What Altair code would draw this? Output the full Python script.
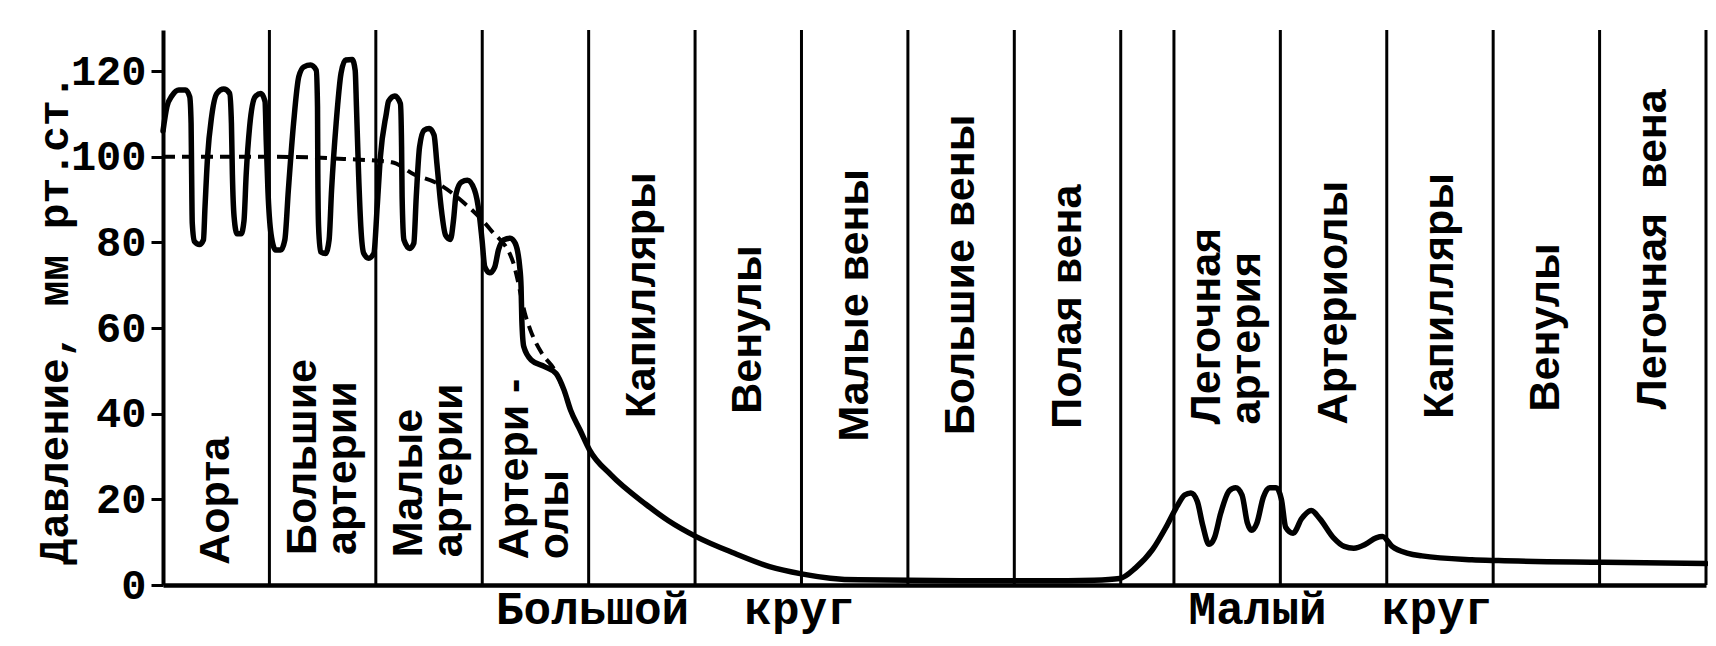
import altair as alt
import pandas as pd

NB = "\u00a0"  # non-breaking space keeps the wide typewriter gaps from collapsing

# ---------------- data (x: vessel sections, 1 unit = one section; p: mm Hg) ----------------
curve_x = [0.000, 0.037, 0.086, 0.149, 0.211, 0.251, 0.264, 0.269, 0.275, 0.296, 0.342, 0.380,
           0.395, 0.419, 0.457, 0.507, 0.571, 0.626, 0.643, 0.652, 0.668, 0.696, 0.734, 0.761,
           0.782, 0.814, 0.866, 0.920, 0.959, 0.970, 0.986, 1.015, 1.059, 1.106, 1.145, 1.178,
           1.227, 1.276, 1.324, 1.387, 1.440, 1.452, 1.455, 1.462, 1.481, 1.528, 1.561, 1.584,
           1.627, 1.673, 1.716, 1.778, 1.806, 1.818, 1.838, 1.859, 1.887, 1.933, 1.981, 2.013,
           2.043, 2.098, 2.120, 2.179, 2.231, 2.242, 2.247, 2.264, 2.319, 2.357, 2.380, 2.411,
           2.454, 2.501, 2.547, 2.574, 2.613, 2.655, 2.701, 2.730, 2.755, 2.804, 2.861, 2.928,
           2.971, 2.998, 3.024, 3.070, 3.118, 3.152, 3.201, 3.263, 3.310, 3.352, 3.365, 3.372,
           3.390, 3.463, 3.586, 3.694, 3.769, 3.829, 3.919, 4.009, 4.21, 4.54, 4.75, 5.01,
           5.37, 5.70, 6.00, 6.27, 6.54, 7.50, 8.50, 8.75, 8.99, 9.14, 9.30, 9.43, 9.53,
           9.60, 9.66, 9.72, 9.77, 9.83, 9.88, 9.94, 10.02, 10.08, 10.14, 10.19, 10.23,
           10.28, 10.34, 10.40, 10.46, 10.51, 10.55, 10.62, 10.70, 10.79, 10.87, 11.00, 11.10,
           11.19, 11.30, 11.40, 11.46, 11.55, 11.70, 11.83, 12.30, 12.55, 13.54, 14.50]
curve_p = [106.0, 111.7, 114.3, 115.6, 115.6, 114.0, 107.8, 96.0, 84.5, 80.2, 79.5, 80.6,
           88.4, 100.0, 109.4, 114.8, 115.8, 114.8, 107.8, 96.0, 86.0, 82.0, 82.0, 85.0,
           96.0, 107.0, 114.0, 114.8, 112.9, 103.9, 92.2, 82.0, 78.2, 78.2, 80.6, 92.2,
           107.8, 118.7, 121.0, 121.4, 120.2, 111.7, 96.0, 83.7, 77.8, 77.4, 80.6, 92.2,
           107.8, 119.5, 122.6, 122.7, 120.2, 111.7, 96.0, 83.7, 77.4, 76.3, 77.4, 88.4,
           100.0, 110.0, 113.0, 114.2, 112.4, 102.3, 90.7, 80.6, 78.6, 79.8, 90.7, 102.3,
           106.2, 106.6, 105.1, 98.4, 88.3, 81.7, 80.7, 85.2, 91.4, 94.1, 94.5, 92.2,
           86.8, 80.6, 74.3, 72.9, 74.3, 78.2, 80.6, 81.0, 79.8, 74.3, 69.6, 61.9,
           55.7, 52.5, 51.0, 49.4, 45.5, 40.9, 36.2, 31.5, 25.7, 18.8, 15.0, 11.3,
           7.4, 4.3, 2.6, 1.6, 1.2, 1.0, 1.0, 1.1, 1.5, 4.0, 8.3, 13.7, 18.4,
           21.0, 21.5, 19.5, 14.0, 9.5, 11.0, 16.8, 22.0, 22.7, 21.0, 14.5, 12.8,
           14.5, 20.5, 22.7, 22.7, 20.0, 13.5, 12.1, 15.5, 17.4, 15.5, 11.0, 9.0,
           8.6, 9.5, 11.0, 11.3, 9.0, 7.4, 6.8, 5.9, 5.7, 5.3, 5.0]

mean_x = [0.0, 1.0, 1.7, 2.15, 2.365, 2.57, 2.83, 3.08, 3.29, 3.33, 3.40, 3.45, 3.56, 3.68, 3.79]
mean_p = [100.0, 100.0, 99.5, 98.7, 95.8, 93.9, 89.2, 82.9, 75.4, 71.5, 63.5, 59.7, 54.1, 50.2, 44.0]

section_names = ["Аорта", "Большие\nартерии", "Малые\nартерии", "Артери -\nолы", "Капилляры",
                 "Венулы", "Малые вены", "Большие вены", "Полая вена",
                 "Легочная\nартерия", "Артериолы", "Капилляры", "Венулы",
                 f"Легочная{NB}{NB}вена"]
section_start = [0, 1, 2, 3, 4, 5, 6, 7, 8, 9.5, 10.5, 11.5, 12.5, 13.5]
section_end = [1, 2, 3, 4, 5, 6, 7, 8, 9, 10.5, 11.5, 12.5, 13.5, 14.5]
label_start_p = [4.7, 7.0, 6.5, 6.0, 39.0, 40.0, 33.5, 35.0, 36.5, 37.5, 37.5, 38.8, 40.5, 41.0]

circle_names = [f"Большой{NB}{NB}круг", f"Малый{NB}{NB}круг"]
circle_pos = [4.81, 11.06]

y_ticks = [0, 20, 40, 60, 80, 100, 120]
y_title = "Давление, мм рт.ст."

# ---------------- layout ----------------
W, H = 1543, 555
X_DOMAIN = [0, 14.5]
Y_DOMAIN = [0, 129.6]
LINE_PX = 40  # line spacing of the two-line section names, in pixels
line_step = LINE_PX * (X_DOMAIN[1] - X_DOMAIN[0]) / W

# ---------------- frames ----------------
curve_df = pd.DataFrame({"x": curve_x, "p": curve_p})
mean_df = pd.DataFrame({"x": mean_x, "p": mean_p})
bounds = sorted(set(section_start + section_end) - {0})
rule_df = pd.DataFrame({"x": bounds})

rows = []
for name, a, b, p in zip(section_names, section_start, section_end, label_start_p):
    lines = name.split("\n")
    n = len(lines)
    for i, line in enumerate(lines):
        rows.append({"name": line, "x": (a + b) / 2 + (i - (n - 1) / 2) * line_step, "p": p})
label_df = pd.DataFrame(rows)

xs = alt.Scale(domain=X_DOMAIN, nice=False, zero=False)
ys = alt.Scale(domain=Y_DOMAIN, nice=False, zero=False)

expr = "''"
for pos, name in zip(circle_pos, circle_names):
    expr = f"abs(datum.value - {pos}) < 0.01 ? '{name}' : ({expr})"

x_axis = alt.Axis(
    title=None, values=circle_pos, labelExpr=expr, ticks=False, tickSize=0, grid=False,
    domainColor="black", domainWidth=4.5, labelFont="Liberation Mono", labelFontWeight="bold",
    labelFontSize=46, labelColor="black", labelPadding=38, labelBaseline="alphabetic",
    labelFlush=False, labelOverlap=False, labelBound=False, labelAlign="center",
    labelLimit=2000,
)
y_axis = alt.Axis(
    title=y_title, values=y_ticks, grid=False, domainColor="black", domainWidth=4,
    tickColor="black", tickSize=12, tickWidth=3, labelFont="Liberation Mono",
    labelFontWeight="bold", labelFontSize=42, labelColor="black", labelPadding=5,
    labelFlush=False, titleFont="Liberation Mono", titleFontWeight="bold", titleFontSize=43,
    titleColor="black", titleAngle=270, titleX=-96, titleY=289, titleBaseline="alphabetic",
    titleAlign="center", titleLimit=2000,
)

rules = alt.Chart(rule_df).mark_rule(color="black", strokeWidth=3).encode(
    x=alt.X("x:Q", scale=xs, axis=x_axis)
)

labels = alt.Chart(label_df).mark_text(
    angle=270, align="left", baseline="middle", font="Liberation Sans", fontWeight="bold",
    fontSize=43, color="black",
).encode(
    x=alt.X("x:Q", scale=xs, axis=x_axis),
    y=alt.Y("p:Q", scale=ys, axis=y_axis),
    text="name:N",
)

mean_line = alt.Chart(mean_df).mark_line(
    color="black", strokeWidth=4, strokeDash=[12, 7], interpolate="monotone"
).encode(
    x=alt.X("x:Q", scale=xs, axis=x_axis),
    y=alt.Y("p:Q", scale=ys, axis=y_axis),
)

curve = alt.Chart(curve_df).mark_line(
    color="black", strokeWidth=5.5, interpolate="monotone", strokeJoin="round", strokeCap="round"
).encode(
    x=alt.X("x:Q", scale=xs, axis=x_axis),
    y=alt.Y("p:Q", scale=ys, axis=y_axis),
)

chart = alt.layer(rules, labels, mean_line, curve).properties(
    width=W, height=H,
    padding={"left": 155, "top": 22, "right": 2, "bottom": 53},
    autosize=alt.AutoSizeParams(type="none"),
    background="white",
).configure_view(stroke="transparent", strokeWidth=0)

chart.save("out.html", embed_options={"renderer": "svg", "actions": False})
